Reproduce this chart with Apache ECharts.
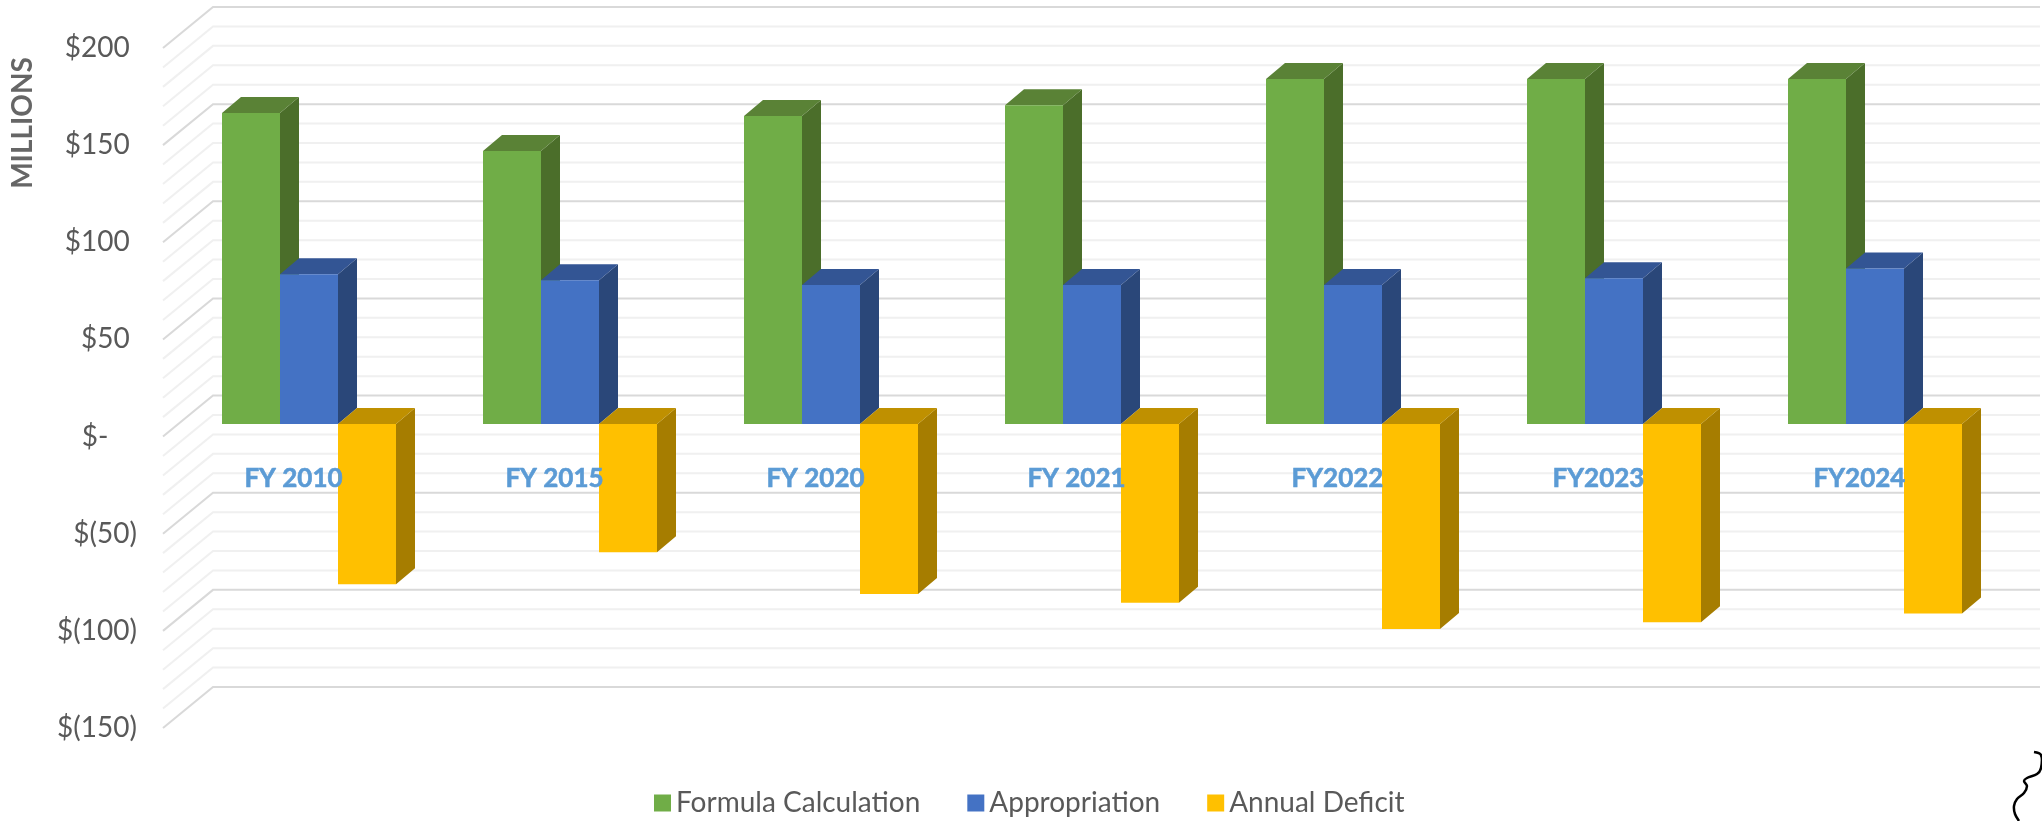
<!DOCTYPE html>
<html>
<head>
<meta charset="utf-8">
<style>html,body{margin:0;padding:0;background:#fff}#c{width:2042px;height:821px;filter:blur(0.6px)}</style>
<script src="https://cdn.jsdelivr.net/npm/echarts@6/dist/echarts.min.js"></script>
</head>
<body>
<div id="c"></div>
<script>
var categories = ['FY 2010','FY 2015','FY 2020','FY 2021','FY2022','FY2023','FY2024'];
var formulaCalculation = [160, 140.5, 158.5, 164, 177.5, 177.5, 177.5];
var appropriation = [77, 74, 71.5, 71.5, 71.5, 75, 80];
var annualDeficit = [-82.5, -66, -87.5, -92, -105.5, -102, -97.5];
var yMin = -150, yMax = 200, yStep = 50;
var yTickLabels = {'200':'$200 ','150':'$150 ','100':'$100 ','50':'$50 ','0':'$-\u00a0\u00a0\u00a0\u00a0','-50':'$(50)','-100':'$(100)','-150':'$(150)'};
var gridValues = [200,190,180,170,160,150,140,130,120,110,100,90,80,70,60,50,40,30,20,10,0,-10,-20,-30,-40,-50,-60,-70,-80,-90,-100,-110,-120,-130,-140,-150];

var FONT = 'Lato, "Open Sans", sans-serif';
var WALL = {dx: 50, dy: 41};          // front edge of the floor to back wall
var BAR_PLANE = {dx: 15.5, dy: 12.6}; // front edge of the floor to front of bars
var DEPTH = {dx: 19, dy: 16};         // bar depth
var BAR_RATIO = 1 / 4.5;              // 150% gap width

function shade(pts, fill) {
  return {type: 'polygon', shape: {points: pts}, style: {fill: fill, stroke: null}};
}

function barSeries(name, values, index, front, side, top) {
  return {
    name: name, type: 'custom', data: values.map(function (v, i) { return [i, v]; }),
    encode: {x: 0, y: 1}, clip: false, z: 3,
    itemStyle: {color: front},
    renderItem: function (params, api) {
      var cat = api.value(0), v = api.value(1);
      var band = api.size([1, 0])[0], w = band * BAR_RATIO;
      var c0 = api.coord([cat, 0]), c1 = api.coord([cat, v]);
      var xL = c0[0] + BAR_PLANE.dx + (index - 1.5) * w, xR = xL + w;
      var yZero = c0[1] - BAR_PLANE.dy, yVal = c1[1] - BAR_PLANE.dy;
      var yTop = Math.min(yZero, yVal), yBot = Math.max(yZero, yVal);
      var dx = DEPTH.dx, dy = DEPTH.dy;
      return {type: 'group', children: [
        shade([[xR, yTop], [xR + dx, yTop - dy], [xR + dx, yBot - dy], [xR, yBot]], side),
        shade([[xL, yTop], [xR, yTop], [xR + dx, yTop - dy], [xL + dx, yTop - dy]], top),
        shade([[xL, yTop], [xR, yTop], [xR, yBot], [xL, yBot]], front)
      ]};
    }
  };
}

var wallSeries = {
  name: 'gridlines', type: 'custom', data: gridValues.map(function (v) { return [0, v]; }),
  encode: {x: 0, y: 1}, clip: false, z: 1, silent: true, tooltip: {show: false},
  renderItem: function (params, api) {
    var v = api.value(1), y = api.coord([0, v])[1];
    var left = params.coordSys.x, right = left + params.coordSys.width;
    var major = v % yStep === 0;
    return {type: 'polyline', silent: true, shape: {points: [
      [left, y], [left + WALL.dx, y - WALL.dy], [right + WALL.dx, y - WALL.dy]
    ]}, style: {fill: null, stroke: major ? '#d9d9d9' : '#f0f0f0', lineWidth: 2}};
  }
};

var chart = echarts.init(document.getElementById('c'), null, {renderer: 'canvas'});
chart.setOption({
  animation: false,
  backgroundColor: '#ffffff',
  grid: {left: 163, right: 52, top: 48, bottom: 93, containLabel: false},
  legend: {
    left: 649, top: 784, itemWidth: 17, itemHeight: 17, itemGap: 47, icon: 'rect',
    data: ['Formula Calculation', 'Appropriation', 'Annual Deficit'],
    textStyle: {fontFamily: FONT, fontSize: 28, color: '#595959'}
  },
  xAxis: {
    type: 'category', data: categories, z: 10,
    axisLine: {show: false},
    axisTick: {show: false}, splitLine: {show: false},
    axisLabel: {margin: -262, interval: 0, fontFamily: FONT, fontSize: 26, fontWeight: 'bold',
      color: '#5b9bd5', textBorderColor: '#5b9bd5', textBorderWidth: 0.6}
  },
  yAxis: {
    type: 'value', min: yMin, max: yMax, interval: yStep,
    axisLine: {show: false}, axisTick: {show: false}, splitLine: {show: false},
    axisLabel: {margin: 26, fontFamily: FONT, fontSize: 28, color: '#595959',
      formatter: function (v) { return yTickLabels[String(v)]; }}
  },
  graphic: [
    {type: 'text', x: 23, y: 123, rotation: Math.PI / 2,
      style: {text: 'MILLIONS', fontFamily: FONT, fontSize: 28, fontWeight: 'bold', fill: '#666666',
        textAlign: 'center', textVerticalAlign: 'middle'}},
    {type: 'polyline', silent: true, z: 20,
      shape: {smooth: 0.35, points: [[2034,752],[2041,755],[2041,768],[2037,774],[2027,778],[2024,781],[2027,786],[2024,793],[2017,799],[2014,806],[2015,814],[2019,821]]},
      style: {fill: null, stroke: '#000000', lineWidth: 2.5}}
  ],
  series: [
    wallSeries,
    barSeries('Formula Calculation', formulaCalculation, 0, '#70ad47', '#4b6e2a', '#5a8236'),
    barSeries('Appropriation', appropriation, 1, '#4472c4', '#2a4779', '#335594'),
    barSeries('Annual Deficit', annualDeficit, 2, '#ffc000', '#a67d00', '#bf9000')
  ]
});
</script>
</body>
</html>
